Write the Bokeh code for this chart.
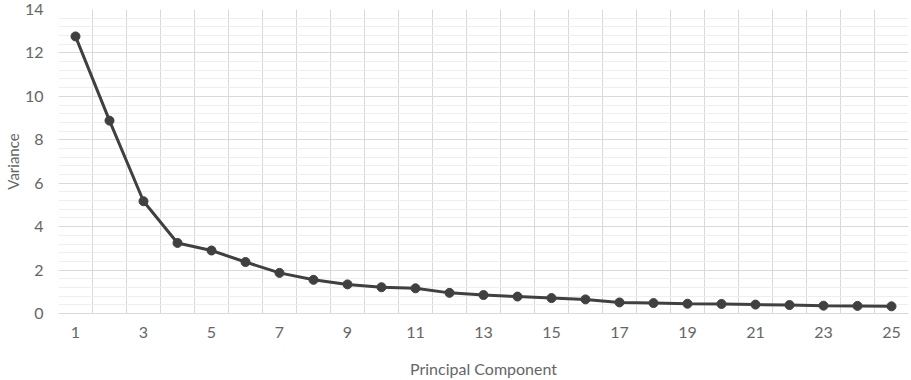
from bokeh.plotting import figure
from bokeh.models import Range1d, FixedTicker, SingleIntervalTicker, ColumnDataSource
from bokeh.embed import file_html
from bokeh.resources import INLINE

components = list(range(1, 26))
variance = [12.76, 8.88, 5.17, 3.25, 2.90, 2.37, 1.87, 1.55, 1.34, 1.21,
            1.16, 0.95, 0.85, 0.78, 0.71, 0.65, 0.51, 0.48, 0.45, 0.44,
            0.41, 0.39, 0.36, 0.35, 0.33]
x_tick_labels = [1, 3, 5, 7, 9, 11, 13, 15, 17, 19, 21, 23, 25]
x_title = "Principal Component"
y_title = "Variance"

src = ColumnDataSource(data=dict(x=components, y=variance))

p = figure(width=911, height=380, output_backend="svg", toolbar_location=None,
           x_range=Range1d(0.5, 25.5), y_range=Range1d(0, 14),
           min_border_left=58, min_border_right=3, min_border_top=9, min_border_bottom=64)
p.outline_line_color = None
p.background_fill_color = "white"
p.border_fill_color = "white"

FONT = "Lato"
LABEL_COLOR = "#666666"

# x axis
p.xaxis.ticker = FixedTicker(ticks=x_tick_labels)
p.xaxis.major_tick_line_color = None
p.xaxis.minor_tick_line_color = None
p.xaxis.axis_line_color = "#d9d9d9"
p.xaxis.major_label_text_font = FONT
p.xaxis.major_label_text_font_size = "16px"
p.xaxis.major_label_text_color = LABEL_COLOR
p.xaxis.major_label_standoff = 7
p.xaxis.axis_label = x_title
p.xaxis.axis_label_text_font = FONT
p.xaxis.axis_label_text_font_style = "normal"
p.xaxis.axis_label_text_font_size = "16px"
p.xaxis.axis_label_text_color = LABEL_COLOR
p.xaxis.axis_label_standoff = 18

# y axis
p.yaxis.ticker = SingleIntervalTicker(interval=2, num_minor_ticks=5)
p.yaxis.major_tick_line_color = None
p.yaxis.minor_tick_line_color = None
p.yaxis.axis_line_color = None
p.yaxis.major_label_text_font = FONT
p.yaxis.major_label_text_font_size = "16px"
p.yaxis.major_label_text_color = LABEL_COLOR
p.yaxis.major_label_standoff = 9
p.yaxis.axis_label = y_title
p.yaxis.axis_label_text_font = FONT
p.yaxis.axis_label_text_font_style = "normal"
p.yaxis.axis_label_text_font_size = "15px"
p.yaxis.axis_label_text_color = LABEL_COLOR
p.yaxis.axis_label_standoff = 0

# grids
p.xgrid.ticker = FixedTicker(ticks=[i + 0.5 for i in range(0, 26)])
p.xgrid.grid_line_color = "#d9d9d9"
p.xgrid.grid_line_width = 1
p.ygrid.ticker = SingleIntervalTicker(interval=2, num_minor_ticks=5)
p.ygrid.grid_line_color = "#d9d9d9"
p.ygrid.minor_grid_line_color = "#eeeeee"

p.line("x", "y", source=src, line_color="#404040", line_width=3)
p.scatter("x", "y", source=src, size=9, fill_color="#404040", line_color="#404040")

open("out.html", "w").write(file_html(p, INLINE))
